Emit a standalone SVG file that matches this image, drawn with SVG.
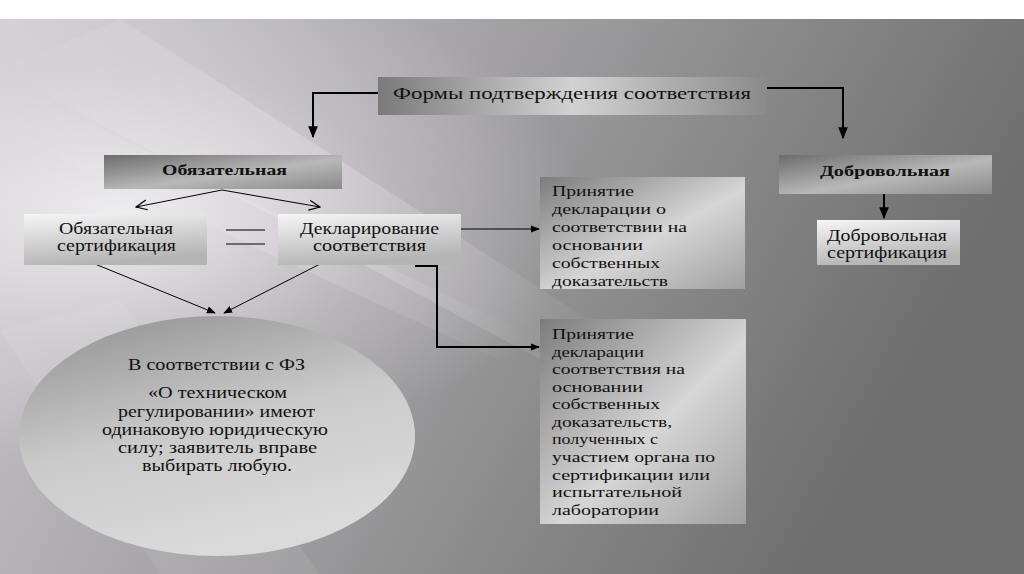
<svg xmlns="http://www.w3.org/2000/svg" width="1024" height="574" viewBox="0 0 1024 574">
<defs>
<linearGradient id="bg" x1="0" y1="0" x2="1" y2="0.3">
<stop offset="0" stop-color="#d0ccd2"/>
<stop offset="0.35" stop-color="#aeabb0"/>
<stop offset="0.7" stop-color="#8a8a8a"/>
<stop offset="1" stop-color="#6e6e6e"/>
</linearGradient>
<radialGradient id="glow" cx="0.12" cy="0.35" r="0.45">
<stop offset="0" stop-color="#ffffff" stop-opacity="0.75"/>
<stop offset="0.6" stop-color="#f4eef4" stop-opacity="0.25"/>
<stop offset="1" stop-color="#ffffff" stop-opacity="0"/>
</radialGradient>
<linearGradient id="streak" x1="0" y1="0" x2="1" y2="0">
<stop offset="0" stop-color="#ffffff" stop-opacity="0"/>
<stop offset="0.5" stop-color="#f4ecf4" stop-opacity="0.4"/>
<stop offset="1" stop-color="#ffffff" stop-opacity="0"/>
</linearGradient>
<linearGradient id="gTitle" x1="0" y1="0" x2="1" y2="0">
<stop offset="0" stop-color="#7a7a7a"/>
<stop offset="0.5" stop-color="#d2d2d2"/>
<stop offset="1" stop-color="#8a8a8a"/>
</linearGradient>
<linearGradient id="gDark" x1="0" y1="0" x2="1" y2="1">
<stop offset="0" stop-color="#6c6c6c"/>
<stop offset="0.55" stop-color="#b8b8b8"/>
<stop offset="1" stop-color="#8a8a8a"/>
</linearGradient>
<linearGradient id="gLight" x1="0" y1="0" x2="0.3" y2="1">
<stop offset="0" stop-color="#f6f6f6"/>
<stop offset="1" stop-color="#b4b4b4"/>
</linearGradient>
<linearGradient id="gDecl" x1="0" y1="0" x2="1" y2="1">
<stop offset="0" stop-color="#7c7c7c"/>
<stop offset="0.55" stop-color="#d6d6d6"/>
<stop offset="1" stop-color="#a0a0a0"/>
</linearGradient>
<linearGradient id="gEll" x1="0" y1="0" x2="0.4" y2="1">
<stop offset="0" stop-color="#8e8e8e"/>
<stop offset="0.55" stop-color="#cacaca"/>
<stop offset="1" stop-color="#dadada"/>
</linearGradient>
<marker id="arr" viewBox="0 0 10 10" refX="9" refY="5" markerWidth="6" markerHeight="6" orient="auto">
<path d="M0,1 L10,5 L0,9 Z" fill="#000"/>
</marker>
<marker id="arrS" viewBox="0 0 10 10" refX="9" refY="5" markerWidth="9" markerHeight="9" orient="auto" markerUnits="userSpaceOnUse">
<path d="M0,1 L10,5 L0,9 Z" fill="#000"/>
</marker>
<marker id="open" viewBox="0 0 12 12" refX="11" refY="6" markerWidth="12" markerHeight="12" orient="auto" markerUnits="userSpaceOnUse">
<path d="M0,1 L11,6 L0,11" fill="none" stroke="#000" stroke-width="1.2"/>
</marker>
<style>
text{font-family:"Liberation Serif","Times New Roman",serif;fill:#111;}
.t{font-size:17px;}
.b{font-size:14px;font-weight:bold;}
.m{font-size:16px;}
.d{font-size:15px;}
.ln{stroke:#000;fill:none;}
</style>
</defs>
<rect x="0" y="0" width="1024" height="574" fill="#ffffff"/>
<rect x="0" y="19" width="1024" height="555" fill="url(#bg)"/>
<g id="background-streaks">
<rect x="0" y="19" width="1024" height="555" fill="url(#glow)"/>
<polygon points="0,70 120,19 620,340 560,370" fill="url(#streak)" opacity="0.7"/>
<polygon points="0,130 40,100 540,340 500,360" fill="url(#streak)" opacity="0.5"/>
<polygon points="0,330 120,300 320,574 160,574" fill="#ffffff" opacity="0.08"/>
</g>
<g id="connectors">
<polyline class="ln" stroke-width="2" points="378,93 313,93 313,137" marker-end="url(#arr)"/>
<polyline class="ln" stroke-width="2" points="767,88 843,88 843,138" marker-end="url(#arr)"/>
<line class="ln" x1="222" y1="190" x2="136" y2="207" marker-end="url(#open)"/>
<line class="ln" x1="222" y1="190" x2="320" y2="207" marker-end="url(#open)"/>
<line class="ln" x1="226" y1="230" x2="265" y2="230"/>
<line class="ln" x1="226" y1="244" x2="265" y2="244"/>
<line class="ln" x1="461" y1="229" x2="539" y2="229" marker-end="url(#arrS)"/>
<polyline class="ln" stroke-width="2" points="415,266 437,266 437,347 539,347" marker-end="url(#arrS)"/>
<line class="ln" x1="95" y1="264" x2="215" y2="313" marker-end="url(#arrS)"/>
<line class="ln" x1="320" y1="264" x2="224" y2="313" marker-end="url(#arrS)"/>
<line class="ln" stroke-width="2" x1="884" y1="194" x2="884" y2="218" marker-end="url(#arr)"/>
</g>
<g id="title">
<rect x="378" y="77" width="389" height="38" fill="url(#gTitle)"/>
<text class="t" x="393" y="99" textLength="358" lengthAdjust="spacingAndGlyphs">Формы подтверждения соответствия</text>
</g>
<g id="mandatory">
<rect x="104" y="155" width="238" height="34" fill="url(#gDark)"/>
<text class="b" x="162" y="175" textLength="125" lengthAdjust="spacingAndGlyphs">Обязательная</text>
</g>
<g id="mandatory-cert">
<rect x="24" y="214" width="183" height="51" fill="url(#gLight)"/>
<text class="m" x="59" y="234" textLength="114" lengthAdjust="spacingAndGlyphs">Обязательная</text>
<text class="m" x="57" y="251" textLength="119" lengthAdjust="spacingAndGlyphs">сертификация</text>
</g>
<g id="declaration">
<rect x="278" y="214" width="183" height="51" fill="url(#gLight)"/>
<text class="m" x="300" y="234" textLength="139" lengthAdjust="spacingAndGlyphs">Декларирование</text>
<text class="m" x="313" y="251" textLength="113" lengthAdjust="spacingAndGlyphs">соответствия</text>
</g>
<g id="note-ellipse">
<ellipse cx="217" cy="436" rx="198" ry="120" fill="url(#gEll)"/>
<text class="m" x="128" y="370" textLength="177" lengthAdjust="spacingAndGlyphs">В соответствии с ФЗ</text>
<text class="m" x="148" y="398" textLength="139" lengthAdjust="spacingAndGlyphs">«О техническом</text>
<text class="m" x="118" y="417" textLength="197" lengthAdjust="spacingAndGlyphs">регулировании» имеют</text>
<text class="m" x="102" y="435" textLength="226" lengthAdjust="spacingAndGlyphs">одинаковую юридическую</text>
<text class="m" x="118" y="453" textLength="199" lengthAdjust="spacingAndGlyphs">силу; заявитель  вправе</text>
<text class="m" x="142" y="471" textLength="150" lengthAdjust="spacingAndGlyphs">выбирать любую.</text>
</g>
<g id="decl-own">
<rect x="540" y="177" width="205" height="112" fill="url(#gDecl)"/>
<text class="d" x="552" y="196" textLength="82" lengthAdjust="spacingAndGlyphs">Принятие</text>
<text class="d" x="552" y="214" textLength="114" lengthAdjust="spacingAndGlyphs">декларации о</text>
<text class="d" x="552" y="232" textLength="135" lengthAdjust="spacingAndGlyphs">соответствии на</text>
<text class="d" x="552" y="250" textLength="91" lengthAdjust="spacingAndGlyphs">основании</text>
<text class="d" x="552" y="268" textLength="108" lengthAdjust="spacingAndGlyphs">собственных</text>
<text class="d" x="552" y="286" textLength="116" lengthAdjust="spacingAndGlyphs">доказательств</text>
</g>
<g id="decl-third">
<rect x="540" y="319" width="206" height="205" fill="url(#gDecl)"/>
<text class="d" x="552" y="339" textLength="82" lengthAdjust="spacingAndGlyphs">Принятие</text>
<text class="d" x="552" y="357" textLength="92" lengthAdjust="spacingAndGlyphs">декларации</text>
<text class="d" x="552" y="374" textLength="133" lengthAdjust="spacingAndGlyphs">соответствия на</text>
<text class="d" x="552" y="392" textLength="91" lengthAdjust="spacingAndGlyphs">основании</text>
<text class="d" x="552" y="409" textLength="108" lengthAdjust="spacingAndGlyphs">собственных</text>
<text class="d" x="552" y="427" textLength="120" lengthAdjust="spacingAndGlyphs">доказательств,</text>
<text class="d" x="552" y="444" textLength="106" lengthAdjust="spacingAndGlyphs">полученных с</text>
<text class="d" x="552" y="462" textLength="163" lengthAdjust="spacingAndGlyphs">участием органа по</text>
<text class="d" x="552" y="480" textLength="158" lengthAdjust="spacingAndGlyphs">сертификации или</text>
<text class="d" x="552" y="497" textLength="130" lengthAdjust="spacingAndGlyphs">испытательной</text>
<text class="d" x="552" y="515" textLength="107" lengthAdjust="spacingAndGlyphs">лаборатории</text>
</g>
<g id="voluntary">
<rect x="779" y="155" width="213" height="39" fill="url(#gDark)"/>
<text class="b" x="820" y="176" textLength="130" lengthAdjust="spacingAndGlyphs">Добровольная</text>
</g>
<g id="voluntary-cert">
<rect x="817" y="220" width="143" height="45" fill="url(#gLight)"/>
<text class="m" x="827" y="241" textLength="120" lengthAdjust="spacingAndGlyphs">Добровольная</text>
<text class="m" x="827" y="258" textLength="120" lengthAdjust="spacingAndGlyphs">сертификация</text>
</g>
</svg>
